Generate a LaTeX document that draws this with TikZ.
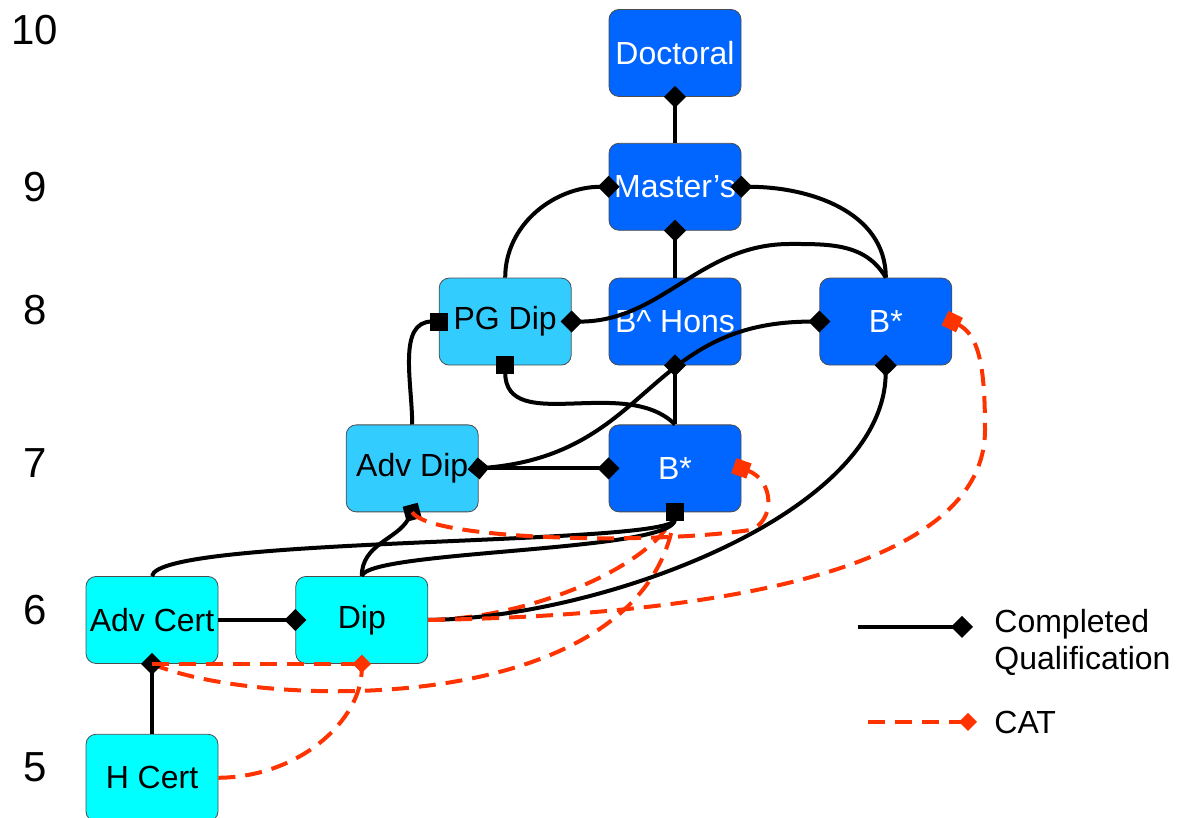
\documentclass[tikz,border=0pt]{standalone}
\usepackage{fontspec}
\setmainfont{Liberation Sans}
\usetikzlibrary{positioning}
\usetikzlibrary{arrows.meta}
\definecolor{bluedark}{RGB}{0,102,255}
\definecolor{bluelight}{RGB}{51,204,255}
\definecolor{bluecyan}{RGB}{0,255,255}
\definecolor{catred}{RGB}{255,51,0}
\tikzset{node distance=23pt,
    qual/.style={
        draw=black!70,
        thin,
        rounded corners=5pt,
        minimum width=66pt,
        minimum height=43.5pt,
        inner sep=1pt,
        font=\fontsize{16}{19}\selectfont},
    upper/.style={qual, fill=bluedark, text=white},
    middle/.style={qual, fill=bluelight},
    lower/.style={qual, fill=bluecyan},
    level/.style={font=\fontsize{21}{25}\selectfont},
    done/.style={
        draw,
        line width=2pt,
        -{Diamond[length=11pt,width=11pt]},
        shorten >=-5.5pt},
    donesq/.style={
        draw,
        line width=2pt,
        -{Square[length=9pt,width=9pt]},
        shorten >=-4.5pt},
    cat/.style={
        draw=catred,
        line width=2pt,
        dash pattern=on 8.5pt off 5pt},
    catdia/.style={cat, -{Diamond[length=9pt,width=9pt]}, shorten >=-4.5pt},
    catsq/.style={cat, -{Square[length=8pt,width=8pt]}, shorten >=-4pt}}

\begin{document}
\begin{tikzpicture}[x=0.5pt,y=0.5pt]
        \useasboundingbox (0,0) rectangle (1185,818);

        \node[level] (l10) at (35,788) {10};
        \node[level] (l9) at (35,631) {9};
        \node[level] (l8) at (35,508) {8};
        \node[level] (l7) at (35,355) {7};
        \node[level] (l6) at (35,208) {6};
        \node[level] (l5) at (35,51) {5};

        \node[upper] (doc) at (675,765) {Doctoral};
        \node[upper, below=23pt of doc] (mast) {Master’s};
        \node[upper, below=23.5pt of mast] (bhons) {B\textasciicircum{} Hons};
        \node[upper, below=29.5pt of bhons] (bmid) {B*};
        \node[middle, left=18.5pt of bhons] (pgdip) {PG Dip};
        \node[upper, right=39pt of bhons] (bstar) {B*};
        \node[middle, left=65pt of bmid] (advdip) {Adv Dip};
        \node[lower] (advcert) at (152,198) {Adv Cert};
        \node[lower, right=38.5pt of advcert] (dip) {Dip};
        \node[lower, below=35pt of advcert] (hcert) {H Cert};

        \draw[cat] (advcert.south) .. controls (260,108) and (650,98) .. (bmid.south);
        \draw[cat] (dip.east) .. controls (540,200) and (660,258) .. (bmid.south);

        \draw (mast.north) edge[done] (doc.south);
        \draw (bhons.north) edge[done] (mast.south);
        \draw (pgdip.north) edge[done, out=90, in=180] (mast.west);
        \draw (bstar.north) edge[done, out=90, in=0] (mast.east);
        \draw[done] (bstar.north) to[out=120, in=0] (790,574) to[out=180, in=0] (pgdip.east);
        \draw (bmid.north) edge[done] (bhons.south);
        \draw (bmid.north) edge[donesq, out=135, in=-90] (pgdip.south);
        \draw (advdip.north) edge[donesq, out=90, in=180] (pgdip.west);
        \draw (advdip.east) edge[done] (bmid.west);
        \draw (advdip.east) edge[done, {Diamond[length=11pt,width=11pt]}-{Diamond[length=11pt,width=11pt]},
            shorten <=-5.5pt, out=5, in=180, looseness=1.2] (bstar.west);
        \draw[donesq] (advcert.north) .. controls (158,282) and (675,272) .. (bmid.south);
        \draw (dip.north) edge[done, out=90, in=-120] (advdip.south);
        \draw[donesq] (dip.north) .. controls (368,268) and (675,266) .. (bmid.south);
        \draw[done] (dip.east) .. controls (600,200) and (884,303) .. (bstar.south);
        \draw (advcert.east) edge[done] (dip.west);
        \draw (hcert.north) edge[done] (advcert.south);

        \draw[catsq] (dip.east) .. controls (720,203) and (985,248) .. (985,388)
            .. controls (985,448) and (980,483) .. (bstar.east);
        \draw[catsq] (advdip.south) .. controls (430,278) and (650,273) .. (750,288)
            .. controls (775,296) and (775,338) .. (bmid.east);
        \draw[catdia] (hcert.east) .. controls (300,41) and (361,98) .. (dip.south);
        \draw (advcert.south) edge[catdia] (dip.south);

        \coordinate (keya) at (858,191);
        \coordinate (keyb) at (962,191);
        \coordinate (keyc) at (868,96);
        \coordinate (keyd) at (968,96);
        \draw (keya) edge[done] (keyb);
        \draw (keyc) edge[catdia] (keyd);
        \node[anchor=west, align=left, inner sep=0pt, font=\fontsize{16}{18.5}\selectfont] (keyt1) at (994,176) {Completed\\Qualification};
        \node[anchor=west, inner sep=0pt, font=\fontsize{16}{18.5}\selectfont] (keyt2) at (994,96) {CAT};
    \end{tikzpicture}
\end{document}
